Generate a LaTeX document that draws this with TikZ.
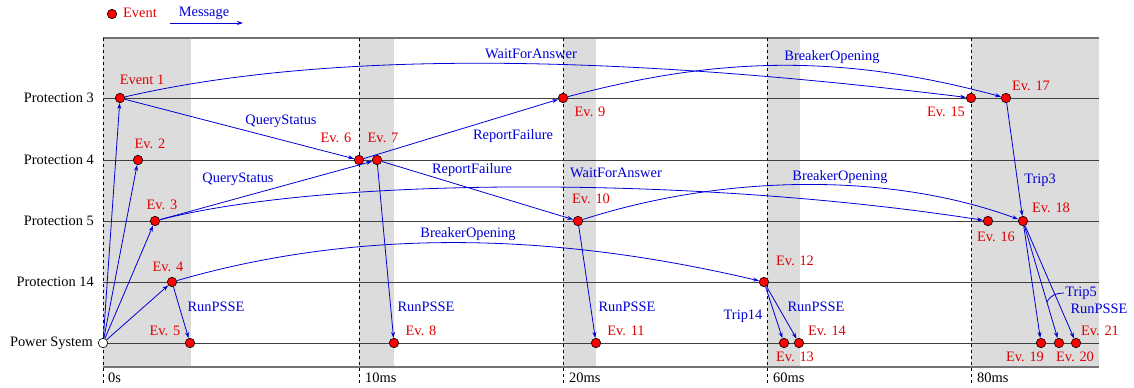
\documentclass[tikz,border=0pt]{standalone}
\usepackage{fontspec}
\setmainfont{Liberation Serif}
\usetikzlibrary{arrows.meta}
\definecolor{band}{RGB}{220,220,220}
\definecolor{evred}{RGB}{225,0,0}
\definecolor{msgblue}{RGB}{0,0,215}
\begin{document}
\begin{tikzpicture}[x=1bp,y=-1bp,
  every node/.style={font=\fontsize{14.4bp}{17bp}\selectfont, inner sep=0pt},
  ev/.style={circle, draw=black, line width=0.6bp, fill=red, minimum size=9.5bp, inner sep=0pt},
  origin/.style={ev, fill=white},
  evlbl/.style={text=evred},
  msglbl/.style={text=msgblue},
  msg/.style={draw=msgblue, line width=0.8bp, -{Stealth[length=6bp,width=4bp]}},
  rowline/.style={draw=black!75, line width=0.9bp},
  frameline/.style={draw=black!55, line width=1.8bp},
  tickline/.style={line width=0.7bp, dash pattern=on 3bp off 3bp},
  rowlbl/.style={anchor=east},
  timelbl/.style={anchor=west}]
\useasboundingbox (0,0) rectangle (1134,387);

% shaded time windows
\fill[band] (103,38) rectangle (191,367);
\fill[band] (359,38) rectangle (394,367);
\fill[band] (563,38) rectangle (596,367);
\fill[band] (767,38) rectangle (800,367);
\fill[band] (971,38) rectangle (1099,367);

% frame
\draw[frameline] (103,38) -- (1099,38);
\draw[frameline] (103,367) -- (1099,367);

% time markers
\foreach \x in {103,359,563,767,971}
  \draw[tickline] (\x,38) -- (\x,383);
\node[timelbl] (t0) at (108,378) {0s};
\node[timelbl] (t1) at (365,378) {10ms};
\node[timelbl] (t2) at (569,378) {20ms};
\node[timelbl] (t3) at (773,378) {60ms};
\node[timelbl] (t4) at (977,378) {80ms};

% process lines
\foreach \y in {98,160,221,282,343}
  \draw[rowline] (103,\y) -- (1099,\y);
\node[rowlbl] (p3) at (94,98) {Protection 3};
\node[rowlbl] (p4) at (94,160) {Protection 4};
\node[rowlbl] (p5) at (94,221) {Protection 5};
\node[rowlbl] (p14) at (94,282) {Protection 14};
\node[rowlbl] (ps) at (93,343) {Power System};

% events
\node[origin] (e0) at (103,343) {};
\node[ev] (e1) at (120,98) {};
\node[ev] (e2) at (138,160) {};
\node[ev] (e3) at (155,221) {};
\node[ev] (e4) at (172,282) {};
\node[ev] (e5) at (190,343) {};
\node[ev] (e6) at (359,160) {};
\node[ev] (e7) at (377,160) {};
\node[ev] (e8) at (394,343) {};
\node[ev] (e9) at (563,98) {};
\node[ev] (e10) at (578,221) {};
\node[ev] (e11) at (596,343) {};
\node[ev] (e12) at (764,282) {};
\node[ev] (e13) at (784,343) {};
\node[ev] (e14) at (799,343) {};
\node[ev] (e15) at (971,98) {};
\node[ev] (e16) at (988,221) {};
\node[ev] (e17) at (1006,98) {};
\node[ev] (e18) at (1023,221) {};
\node[ev] (e19) at (1041,343) {};
\node[ev] (e20) at (1059,343) {};
\node[ev] (e21) at (1076,343) {};

% messages
\draw[msg] (e0) -- (e1);
\draw[msg] (e0) -- (e2);
\draw[msg] (e0) -- (e3);
\draw[msg] (e0) -- (e4);
\draw[msg] (e4) -- (e5);
\draw[msg] (e1) -- (e6);
\draw[msg] (e3) -- (e7);
\draw[msg] (e7) -- (e8);
\draw[msg] (e6) -- (e9);
\draw[msg] (e7) -- (e10);
\draw[msg] (e10) -- (e11);
\draw[msg] (e12) -- (e13);
\draw[msg] (e12) -- (e14);
\draw[msg] (e17) -- (e18);
\draw[msg] (e18) -- (e19);
\draw[msg] (e18) -- (e20);
\draw[msg] (e18) -- (e21);
\draw[msg] (e1) .. controls (320,52) and (596,52) .. (e15);
\draw[msg] (e9) .. controls (723,55) and (846,55) .. (e17);
\draw[msg] (e3) .. controls (330,176) and (700,176) .. (e16);
\draw[msg] (e10) .. controls (728,173) and (893,173) .. (e18);
\draw[msg] (e4) .. controls (352,230) and (544,230) .. (e12);

% event labels
\node[evlbl] (l1) at (142,80) {Event 1};
\node[evlbl] (l2) at (150,144) {Ev. 2};
\node[evlbl] (l3) at (162,205) {Ev. 3};
\node[evlbl] (l4) at (168,267) {Ev. 4};
\node[evlbl] (l5) at (165,331) {Ev. 5};
\node[evlbl] (l6) at (336,138) {Ev. 6};
\node[evlbl] (l7) at (383,138) {Ev. 7};
\node[evlbl] (l8) at (421,331) {Ev. 8};
\node[evlbl] (l9) at (590,112) {Ev. 9};
\node[evlbl] (l10) at (591,199) {Ev. 10};
\node[evlbl] (l11) at (626,331) {Ev. 11};
\node[evlbl] (l12) at (795,261) {Ev. 12};
\node[evlbl] (l13) at (795,357) {Ev. 13};
\node[evlbl] (l14) at (827,331) {Ev. 14};
\node[evlbl] (l15) at (946,112) {Ev. 15};
\node[evlbl] (l16) at (996,237) {Ev. 16};
\node[evlbl] (l17) at (1031,86) {Ev. 17};
\node[evlbl] (l18) at (1051,208) {Ev. 18};
\node[evlbl] (l19) at (1025,357) {Ev. 19};
\node[evlbl] (l20) at (1075,357) {Ev. 20};
\node[evlbl] (l21) at (1100,331) {Ev. 21};

% message labels
\node[msglbl] (m1) at (216,307) {RunPSSE};
\node[msglbl] (m2) at (281,121) {QueryStatus};
\node[msglbl] (m3) at (238,179) {QueryStatus};
\node[msglbl] (m4) at (513,136) {ReportFailure};
\node[msglbl] (m5) at (472,170) {ReportFailure};
\node[msglbl] (m6) at (531,54) {WaitForAnswer};
\node[msglbl] (m7) at (616,173) {WaitForAnswer};
\node[msglbl] (m8) at (468,234) {BreakerOpening};
\node[msglbl] (m9) at (426,307) {RunPSSE};
\node[msglbl] (m10) at (627,307) {RunPSSE};
\node[msglbl] (m11) at (743,316) {Trip14};
\node[msglbl] (m12) at (816,307) {RunPSSE};
\node[msglbl] (m13) at (832,57) {BreakerOpening};
\node[msglbl] (m14) at (840,177) {BreakerOpening};
\node[msglbl] (m15) at (1040,180) {Trip3};
\node[msglbl] (m16) at (1081,293) {Trip5};
\node[msglbl] (m17) at (1099,309) {RunPSSE};
\coordinate (trip5pin) at (1047,302);
\draw[msgblue, line width=0.8bp] (trip5pin) to[out=65,in=180] ([xshift=-1bp]m16.west);

% legend
\node[ev] (legev) at (112,14) {};
\node[evlbl, anchor=west] (legevt) at (123,13) {Event};
\node[msglbl] (legmsg) at (204,13) {Message};
\coordinate (legA) at (170,23);
\coordinate (legB) at (243,23);
\draw[msg] (legA) -- (legB);
\end{tikzpicture}
\end{document}
